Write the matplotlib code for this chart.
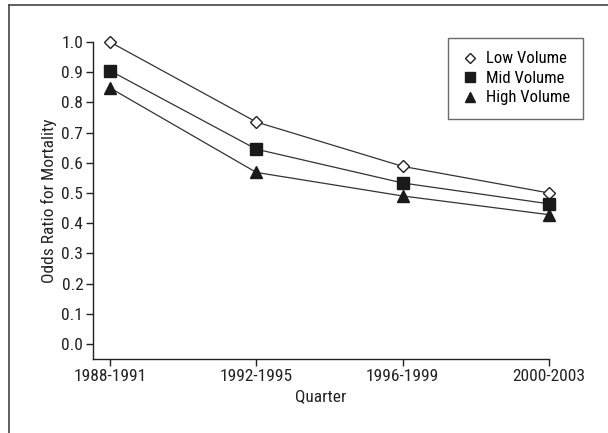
import matplotlib
matplotlib.use('Agg')
import matplotlib.pyplot as plt
from matplotlib.lines import Line2D

# data
quarters = ['1988-1991', '1992-1995', '1996-1999', '2000-2003']
low_volume = [1.0, 0.735, 0.588, 0.500]
mid_volume = [0.905, 0.645, 0.533, 0.464]
high_volume = [0.848, 0.568, 0.490, 0.428]

plt.rcParams['font.family'] = ['Roboto Condensed', 'DejaVu Sans']
plt.rcParams['font.size'] = 12.5

fig = plt.figure(figsize=(6.08, 4.33), dpi=100)
ax = fig.add_axes([93 / 608, 1 - 359 / 433, (549 - 93) / 608, (359 - 42) / 433])

x = list(range(len(quarters)))
lc = '#333333'
ax.plot(x, low_volume, color=lc, lw=0.9, marker='D', ms=6.5, mfc='white',
        mec='#222222', mew=1.0, label='Low Volume', clip_on=False)
ax.plot(x, mid_volume, color=lc, lw=0.9, marker='s', ms=8, mfc='#1a1a1a',
        mec='#1a1a1a', label='Mid Volume', clip_on=False)
ax.plot(x, high_volume, color=lc, lw=0.9, marker='^', ms=8.5, mfc='#1a1a1a',
        mec='#1a1a1a', label='High Volume', clip_on=False)

ax.set_xlim(-0.116, 3)
ax.set_ylim(-0.05, 1.0)
ax.set_xticks(x)
ax.set_xticklabels(quarters)
ax.set_yticks([i / 10 for i in range(11)])
ax.set_yticklabels(['%.1f' % (i / 10) for i in range(11)])
ax.spines['top'].set_visible(False)
ax.spines['right'].set_visible(False)
for s in ['left', 'bottom']:
    ax.spines[s].set_color('#222222')
    ax.spines[s].set_linewidth(1.0)
ax.tick_params(direction='out', length=5, width=1.0, color='#222222',
               labelcolor='#222222', pad=2)
ax.set_xlabel('Quarter', color='#222222', labelpad=4)
ax.set_ylabel('Odds Ratio for Mortality', color='#222222', labelpad=3)

leg = ax.legend(loc='upper right', bbox_to_anchor=(583 / 608, 1 - 38 / 433),
                bbox_transform=fig.transFigure, frameon=True, fancybox=False,
                edgecolor='#444444', handlelength=1.0, handletextpad=0.45,
                borderpad=0.8, labelspacing=0.27, borderaxespad=0,
                markerscale=0.85, fontsize=12)
leg.get_frame().set_linewidth(1.0)
for h in leg.legend_handles:
    h.set_linestyle('none')

# outer frame: top and left edges only
fig.add_artist(Line2D([9 / 608, 1], [1 - 5 / 433, 1 - 5 / 433],
                      transform=fig.transFigure, color='#444444', lw=1.2))
fig.add_artist(Line2D([9 / 608, 9 / 608], [0, 1 - 5 / 433],
                      transform=fig.transFigure, color='#444444', lw=1.2))

fig.savefig('out.png', dpi=100)
